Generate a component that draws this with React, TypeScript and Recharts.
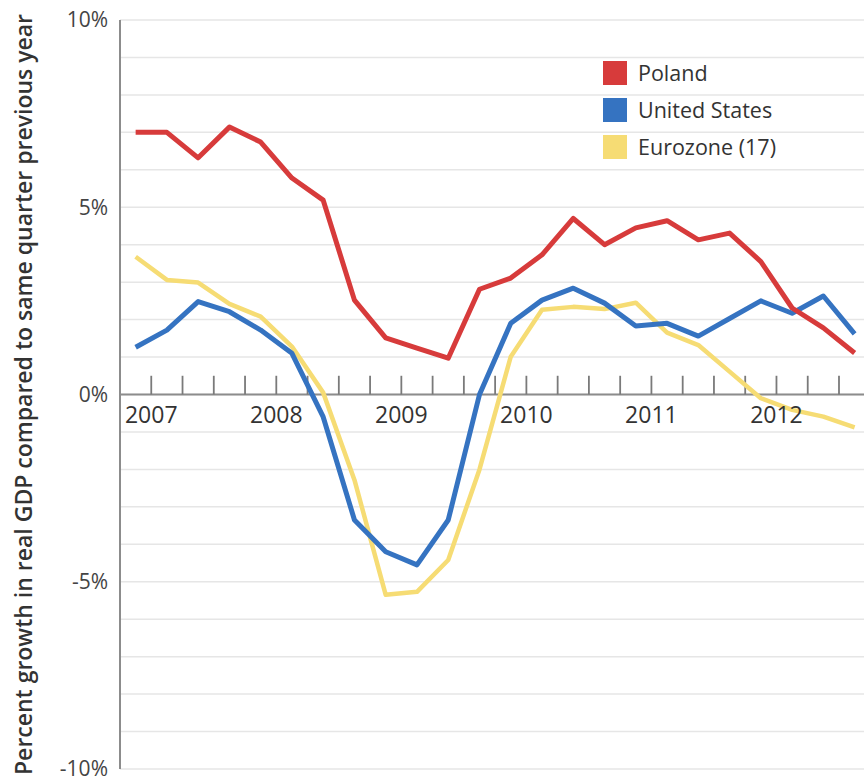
import React from 'react';
import {
  LineChart,
  Line,
  XAxis,
  YAxis,
  CartesianGrid,
  ReferenceLine,
  ReferenceDot,
  Legend,
} from 'recharts';

// Quarters 2007 Q1 .. 2012 Q4
const quarters = [
  '2007Q1', '2007Q2', '2007Q3', '2007Q4',
  '2008Q1', '2008Q2', '2008Q3', '2008Q4',
  '2009Q1', '2009Q2', '2009Q3', '2009Q4',
  '2010Q1', '2010Q2', '2010Q3', '2010Q4',
  '2011Q1', '2011Q2', '2011Q3', '2011Q4',
  '2012Q1', '2012Q2', '2012Q3', '2012Q4',
];

const poland = [
  7.0, 7.0, 6.32, 7.14, 6.74, 5.78, 5.19, 2.52,
  1.51, 1.24, 0.97, 2.81, 3.11, 3.73, 4.70, 4.0,
  4.45, 4.64, 4.13, 4.31, 3.55, 2.31, 1.78, 1.11,
];

const unitedStates = [
  1.26, 1.72, 2.48, 2.21, 1.72, 1.10, -0.6, -3.35,
  -4.20, -4.55, -3.35, 0.0, 1.90, 2.52, 2.84, 2.44,
  1.83, 1.90, 1.56, 2.03, 2.50, 2.17, 2.63, 1.62,
];

const eurozone = [
  3.68, 3.06, 2.99, 2.42, 2.08, 1.28, 0.05, -2.28,
  -5.35, -5.27, -4.42, -2.0, 1.01, 2.26, 2.34, 2.28,
  2.45, 1.65, 1.32, 0.61, -0.10, -0.41, -0.59, -0.88,
];

const yearLabels = ['2007', '2008', '2009', '2010', '2011', '2012'];
const yTicks = [-10, -5, 0, 5, 10];
const gridValues = [-10, -9, -8, -7, -6, -5, -4, -3, -2, -1, 0, 1, 2, 3, 4, 5, 6, 7, 8, 9, 10];
const quarterBoundaries = [1, 2, 3, 4, 5, 6, 7, 8, 9, 10, 11, 12, 13, 14, 15, 16, 17, 18, 19, 20, 21, 22, 23];

const series = [
  { key: 'poland', name: 'Poland', color: '#d73b3b', width: 5 },
  { key: 'us', name: 'United States', color: '#3573c1', width: 5 },
  { key: 'euro', name: 'Eurozone (17)', color: '#f6dc74', width: 4.5 },
];

const data = quarters.map((q, i) => ({
  q,
  x: i + 0.5,
  poland: poland[i],
  us: unitedStates[i],
  euro: eurozone[i],
}));

const FONT = '"Open Sans", "DejaVu Sans", sans-serif';

const LegendContent = () => (
  <div style={{ fontFamily: FONT }}>
    {series.map((s) => (
      <div key={s.key} style={{ display: 'flex', alignItems: 'center', height: 37 }}>
        <div style={{ width: 24, height: 24, background: s.color, marginRight: 11 }} />
        <span style={{ fontSize: 21.5, color: '#333' }}>{s.name}</span>
      </div>
    ))}
  </div>
);

const YLabel = (props: any) => {
  const vb = props.viewBox || {};
  const cx = 23;
  const cy = vb.y + vb.height / 2;
  return (
    <text
      x={cx}
      y={cy}
      transform={`rotate(-90, ${cx}, ${cy})`}
      textAnchor="middle"
      dominantBaseline="central"
      fontFamily={FONT}
      fontWeight={600}
      fontSize={23}
      fill="#333"
    >
      Percent growth in real GDP compared to same quarter previous year
    </text>
  );
};

export default function App() {
  return (
    <div style={{ position: 'absolute', left: 0, top: 0, width: 864, height: 782, overflow: 'hidden', background: '#fff' }}>
      <LineChart
        width={864}
        height={782}
        data={data}
        margin={{ top: 20, right: 0, bottom: 13, left: 0 }}
      >
        <CartesianGrid
          horizontal
          vertical={false}
          horizontalValues={gridValues}
          stroke="#e6e6e6"
          strokeWidth={1.5}
        />
        <XAxis
          dataKey="x"
          type="number"
          domain={[0, 23.8]}
          allowDataOverflow
          hide
        />
        <YAxis
          type="number"
          domain={[-10, 10]}
          ticks={yTicks}
          width={120}
          tickFormatter={(v: number) => `${v}%`}
          axisLine={{ stroke: '#8c8c8c', strokeWidth: 2 }}
          tickLine={false}
          tickSize={0}
          tickMargin={12}
          tick={{ fill: '#444', fontSize: 21, fontFamily: FONT, dy: '0.3em' }}
          label={<YLabel />}
        />
        <ReferenceLine y={0} stroke="#8c8c8c" strokeWidth={2} />
        {quarterBoundaries.map((b) => (
          <ReferenceLine
            key={b}
            segment={[{ x: b, y: 0 }, { x: b, y: 0.5 }]}
            stroke="#7a7a7a"
            strokeWidth={1.8}
          />
        ))}
        {yearLabels.map((yr, i) => (
          <ReferenceDot
            key={yr}
            x={i * 4 + 1}
            y={0}
            r={1}
            shape={(p: any) => (
              <text
                x={p.cx}
                y={p.cy + 19}
                textAnchor="middle"
                dominantBaseline="central"
                fontFamily={FONT}
                fontSize={23}
                fill="#333"
              >
                {yr}
              </text>
            )}
          />
        ))}
        {[...series].reverse().map((s) => (
          <Line
            key={s.key}
            type="linear"
            dataKey={s.key}
            name={s.name}
            stroke={s.color}
            strokeWidth={s.width}
            dot={false}
            activeDot={false}
            strokeLinejoin="round"
            isAnimationActive={false}
          />
        ))}
        <Legend
          layout="horizontal"
          verticalAlign="middle"
          align="center"
          content={<LegendContent />}
          wrapperStyle={{ left: 603, top: 54, width: 'auto' }}
        />
      </LineChart>
    </div>
  );
}
